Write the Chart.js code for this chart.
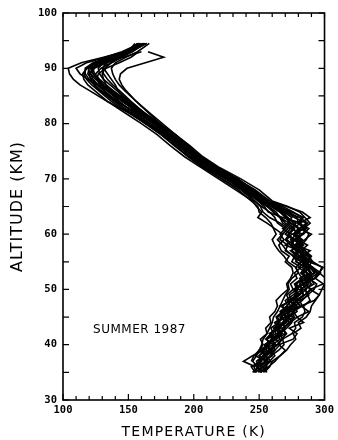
<!DOCTYPE html>
<html>
<head>
<meta charset="utf-8">
<script src="https://cdn.jsdelivr.net/npm/chart.js@4.4.1/dist/chart.umd.min.js"></script>
<style>
  html, body { margin: 0; padding: 0; background: #fff; }
  #wrap { width: 338px; height: 440px; position: relative; }
</style>
</head>
<body>
<div id="wrap"><canvas id="profiles"></canvas></div>
<script>
// ---- altitude grid (km), shared by every sounding ----
const ALT = [35,36,37,38,39,40,41,42,43,44,45,46,47,48,49,50,51,52,53,54,55,56,57,58,59,60,61,62,63,64,65,66,
             68,70,72,74,76,78,80,82,84,86,
             87,88,89,90,91,92,93,94.5];

// ---- temperature soundings (K); null = no data at that level ----
const T01 = [256,253,259,255,262,266,263,270,268,274,279,276,283,281,288,285,292,289,295,288,290,284,281,277,282,276,284,280,279,273,266,257,
             246,232,218,205,194,184,172,160,148,138, 133,128,124,123,130,142,153,163];
const T02 = [246,249,245,248,250,253,251,256,255,259,258,262,264,263,267,272,271,274,276,275,270,273,267,265,269,266,270,264,262,258,252,246,
             236,222,207,196,185,175,163,150,137,127, 122,118,116,118,128,140,151,null];
const T03 = [null,247,238,245,253,257,262,258,266,264,270,267,274,272,279,277,284,281,289,286,283,285,280,277,274,279,283,287,281,270,262,253,
             243,230,214,201,190,181,170,159,149,142, 140,137,134,131,132,139,148,158];
const T04 = [254,258,260,266,271,274,278,276,282,280,286,289,290,293,296,298,300,301,296,298,291,288,285,281,279,283,286,281,283,276,268,258,
             247,233,219,206,196,186,173,161,147,134, 126,119,113,110,118,133,149,164];
const T05 = [249,252,251,255,258,256,261,265,263,268,271,269,275,279,277,283,281,286,282,285,279,276,271,268,264,268,272,266,258,253,251,247,
             238,224,209,196,186,176,164,150,134,120, 113,108,105,104,114,131,148,161];
const T06 = [null,null,254,258,262,260,266,264,269,273,271,277,275,280,284,282,287,285,290,287,282,284,279,275,277,272,276,270,266,263,257,250,
             241,229,214,202,192,183,174,165,156,148, 145,143,144,149,163,177,165,null];
const T07 = [245,250,248,253,259,256,261,267,265,270,273,271,277,276,281,286,283,289,287,283,288,281,284,280,283,278,281,276,272,268,263,256,
             245,234,217,203,193,181,170,157,146,136, 130,126,123,122,128,138,148,157];
const T08 = [252,248,255,253,257,262,260,265,263,268,273,271,276,274,280,278,284,288,283,286,278,281,275,277,271,275,268,273,266,261,257,251,
             238,226,212,198,188,178,166,154,143,134, 129,126,125,129,137,145,153,159];
const T09 = [null,null,null,259,265,269,268,275,278,277,283,285,284,289,287,292,294,288,292,289,287,290,285,282,286,288,284,289,285,281,272,260,
             250,236,220,207,197,186,174,162,150,138, 131,125,121,119,124,135,147,158];
const T10 = [247,252,250,255,252,258,256,263,261,266,264,270,268,273,271,276,274,279,277,282,275,277,270,272,266,268,262,256,249,252,248,245,
             232,219,206,193,182,172,160,147,134,124, 119,116,115,118,127,139,150,162];
const T11 = [253,256,254,260,258,264,268,266,271,275,273,279,277,283,287,285,290,286,284,288,283,285,281,278,281,276,280,274,270,266,259,252,
             244,231,216,204,195,186,176,166,156,147, 143,140,138,137,140,148,157,166];
const T12 = [248,246,252,250,256,254,260,258,264,262,268,266,271,275,273,279,277,283,280,278,282,276,279,274,276,270,274,268,266,261,256,250,
             237,225,210,198,188,177,165,152,139,128, 124,121,120,123,130,141,null,null];
const T13 = [250,253,257,254,260,263,259,265,270,268,272,277,274,279,284,281,288,284,293,289,285,282,284,278,281,277,281,274,271,266,260,254,
             242,228,213,201,190,179,167,154,142,131, 126,122,119,120,126,138,151,162];
const T14 = [null,251,255,250,254,258,256,261,259,265,263,268,272,270,276,280,278,284,289,286,284,287,280,284,278,281,275,278,271,267,261,255,
             240,228,214,203,192,181,169,157,146,137, 133,131,130,132,137,144,150,155];
const T15 = [251,255,258,262,259,264,267,271,268,273,277,275,281,279,285,289,286,292,295,290,286,281,278,274,270,273,277,272,275,269,262,254,
             246,233,218,204,193,183,171,158,145,133, 127,123,121,124,133,146,160,null];
const T16 = [null,null,244,246,250,252,253,256,258,260,261,264,266,268,270,273,272,275,280,278,272,269,265,262,260,263,261,259,255,250,249,244,
             234,221,208,196,186,175,163,151,140,131, 128,126,127,133,143,152,158,null];
const T17 = [251,257,262,266,270,265,276,279,273,284,279,288,282,292,296,289,299,293,296,299,288,283,289,278,285,290,281,286,277,271,264,255,
             244,229,217,203,195,183,170,158,146,135, 131,127,123,121,125,132,145,159];
const T18 = [null,250,256,247,252,261,255,259,267,262,270,274,266,275,281,276,283,291,286,280,287,279,274,283,276,284,288,279,284,275,263,252,
             239,227,213,200,189,180,169,156,141,129, 124,120,117,117,123,135,150,163];
const T19 = [247,244,251,256,250,257,263,258,264,271,266,273,279,273,280,284,278,287,282,291,284,277,281,270,278,283,275,282,268,257,254,249,
             240,226,212,200,191,182,172,162,152,143, 138,134,131,130,134,142,151,160];
const T20 = [null,null,249,253,258,255,263,268,262,270,276,270,282,277,285,290,284,293,297,291,285,289,282,287,280,276,285,281,289,283,271,258,
             245,231,215,202,191,181,171,160,151,141, 136,131,128,127,131,140,152,164];

const SOUNDINGS = [T01,T02,T03,T04,T05,T06,T07,T08,T09,T10,T11,T12,T13,T14,T15,T16,T17,T18,T19,T20];

// ---- axes ----
const T_MIN = 100, T_MAX = 300, T_STEP = 50, T_MINOR = 10;
const Z_MIN = 30,  Z_MAX = 100, Z_STEP = 10, Z_MINOR = 5;
const X_TITLE = 'TEMPERATURE (K)';
const Y_TITLE = 'ALTITUDE (KM)';

// ---- annotation ----
const NOTE = 'SUMMER 1987';
const NOTE_T = 123, NOTE_ALT = 42.7;

const datasets = SOUNDINGS.map((temps, i) => ({
  label: 'profile ' + (i + 1),
  data: ALT.map((z, k) => ({ x: temps[k], y: z })).filter(p => p.x !== null),
  showLine: true,
  borderColor: '#000',
  borderWidth: 1.6,
  pointRadius: 0,
  tension: 0,
  fill: false
}));

// frame, inward tick marks, axis titles and the season label
const decorations = {
  id: 'decorations',
  afterDraw(chart) {
    const { ctx, chartArea: a, scales: { x, y } } = chart;
    ctx.save();
    ctx.strokeStyle = '#000';
    ctx.lineWidth = 1.6;
    ctx.strokeRect(a.left, a.top, a.right - a.left, a.bottom - a.top);

    ctx.lineWidth = 1.2;
    ctx.beginPath();
    for (let v = T_MIN; v <= T_MAX; v += T_MINOR) {
      const px = x.getPixelForValue(v);
      const len = v % T_STEP === 0 ? 6 : 4;
      ctx.moveTo(px, a.bottom); ctx.lineTo(px, a.bottom - len);
      ctx.moveTo(px, a.top); ctx.lineTo(px, a.top + 4);
    }
    for (let v = Z_MIN; v <= Z_MAX; v += Z_MINOR) {
      const py = y.getPixelForValue(v);
      ctx.moveTo(a.left, py); ctx.lineTo(a.left + 6, py);
      ctx.moveTo(a.right, py); ctx.lineTo(a.right - 6, py);
    }
    ctx.stroke();

    ctx.fillStyle = '#000';
    ctx.textAlign = 'center';
    ctx.textBaseline = 'middle';
    ctx.font = '14px "DejaVu Sans"';
    ctx.letterSpacing = '1.2px';
    ctx.fillText(X_TITLE, (a.left + a.right) / 2, a.bottom + 32);

    ctx.save();
    ctx.translate(18, (a.top + a.bottom) / 2);
    ctx.rotate(-Math.PI / 2);
    ctx.font = '16px "DejaVu Sans"';
    ctx.letterSpacing = '1px';
    ctx.fillText(Y_TITLE, 0, 0);
    ctx.restore();

    ctx.letterSpacing = '0.5px';
    ctx.font = '12px "DejaVu Sans"';
    ctx.textAlign = 'left';
    ctx.fillText(NOTE, x.getPixelForValue(NOTE_T), y.getPixelForValue(NOTE_ALT));
    ctx.restore();
  }
};

const tickFont = { family: '"DejaVu Sans Mono"', size: 10.5, weight: 'bold' };

new Chart(document.getElementById('profiles'), {
  type: 'scatter',
  data: { datasets },
  options: {
    responsive: true,
    maintainAspectRatio: false,
    animation: false,
    layout: { padding: { top: 13, right: 13, left: 0, bottom: 0 } },
    plugins: { legend: { display: false }, tooltip: { enabled: false } },
    scales: {
      x: {
        type: 'linear', min: T_MIN, max: T_MAX,
        grid: { display: false, drawTicks: false },
        border: { display: false },
        ticks: { stepSize: T_STEP, autoSkip: false, maxRotation: 0, padding: 4, color: '#000', font: tickFont },
        afterFit(s) { s.height = 40; }
      },
      y: {
        type: 'linear', min: Z_MIN, max: Z_MAX,
        grid: { display: false, drawTicks: false },
        border: { display: false },
        ticks: { stepSize: Z_STEP, autoSkip: false, padding: 6, color: '#000', font: tickFont },
        afterFit(s) { s.width = 63; }
      }
    }
  },
  plugins: [decorations]
});
</script>
</body>
</html>
